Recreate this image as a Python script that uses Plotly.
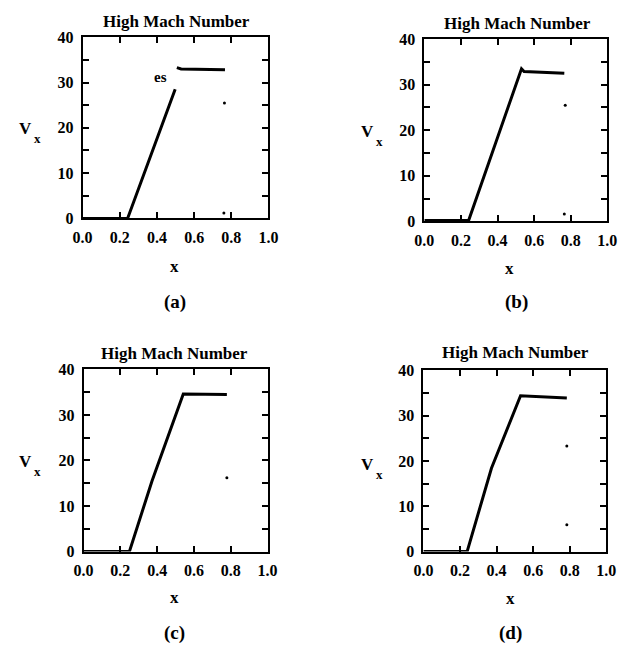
import plotly.graph_objects as go

# ---- data ----
a_x = [0.0, 0.242, 0.498]
a_y = [0.0, 0.0, 28.5]
a_flat_x = [0.507, 0.53, 0.766]
a_flat_y = [33.3, 33.0, 32.8]
a_dots_x = [0.763, 0.76]
a_dots_y = [25.5, 1.2]

b_x = [0.0, 0.242, 0.531, 0.545, 0.765]
b_y = [0.2, 0.2, 33.5, 32.9, 32.5]
b_dots_x = [0.77, 0.765]
b_dots_y = [25.5, 1.6]

c_x = [0.0, 0.249, 0.372, 0.542, 0.779]
c_y = [0.0, 0.0, 15.5, 34.6, 34.5]
c_dots_x = [0.779]
c_dots_y = [16.2]

d_x = [0.0, 0.239, 0.372, 0.531, 0.784]
d_y = [0.0, 0.0, 18.4, 34.4, 33.9]
d_dots_x = [0.784, 0.784]
d_dots_y = [23.3, 5.9]

x_ticks = [0.0, 0.2, 0.4, 0.6, 0.8, 1.0]
y_ticks = [0, 10, 20, 30, 40]
title_text = "High Mach Number"
y_label_main, y_label_sub = "V", "x"
x_label = "x"
panel_labels = ["(a)", "(b)", "(c)", "(d)"]

W, H = 627, 658
FONT = "Liberation Serif"

# panel boxes in pixels: left, right, top, bottom
boxes = [(75, 267, 30, 216), (428, 617, 32, 219), (76, 266, 371, 558), (427, 616, 372, 558)]
# text positions in pixels: title, ylabel (V), xlabel, panel label
texts = [
    dict(title=(172, 14), ylab=(18, 124), xlab=(170, 265), plab=(170, 302)),
    dict(title=(524, 16), ylab=(371, 127), xlab=(516, 267), plab=(523, 302)),
    dict(title=(170, 355), ylab=(18, 466), xlab=(170, 605), plab=(170, 642)),
    dict(title=(522, 354), ylab=(371, 469), xlab=(517, 606), plab=(517, 642)),
]

fig = go.Figure()

lines = [
    [(a_x, a_y), (a_flat_x, a_flat_y)],
    [(b_x, b_y)],
    [(c_x, c_y)],
    [(d_x, d_y)],
]
dots = [(a_dots_x, a_dots_y), (b_dots_x, b_dots_y), (c_dots_x, c_dots_y), (d_dots_x, d_dots_y)]

def ann(px, py, txt, size, xanchor="center"):
    return dict(x=px / W, y=1 - py / H, xref="paper", yref="paper",
                text=txt, showarrow=False, xanchor=xanchor, yanchor="middle",
                borderpad=0,
                font=dict(family=FONT, size=size, color="black", weight="bold"))

annotations = []
for i in range(4):
    sfx = "" if i == 0 else str(i + 1)
    xa, ya = "x" + sfx, "y" + sfx
    for lx, ly in lines[i]:
        fig.add_trace(go.Scatter(x=lx, y=ly, mode="lines", xaxis=xa, yaxis=ya,
                                 line=dict(color="black", width=3), showlegend=False))
    fig.add_trace(go.Scatter(x=dots[i][0], y=dots[i][1], mode="markers", xaxis=xa, yaxis=ya,
                             marker=dict(color="black", size=3), showlegend=False))
    l, r, t, b = boxes[i]
    axcommon = dict(showline=True, linecolor="black", linewidth=2, mirror="ticks",
                    ticks="inside", ticklen=6, tickwidth=2, tickcolor="black",
                    showgrid=False, zeroline=False,
                    tickfont=dict(family=FONT, size=16, color="black", weight="bold"))
    fig.layout["xaxis" + sfx] = dict(
        domain=[l / W, r / W], range=[0, 1], anchor=ya,
        tickvals=x_ticks, ticktext=["%.1f" % v for v in x_ticks],
        ticklabelstandoff=3, **axcommon)
    fig.layout["yaxis" + sfx] = dict(
        domain=[1 - b / H, 1 - t / H], range=[0, 40], anchor=xa,
        tickvals=y_ticks, ticktext=["%d" % v for v in y_ticks],
        ticklabelstandoff=4,
        minor=dict(dtick=5, ticks="inside", ticklen=6, tickwidth=2, tickcolor="black"),
        **axcommon)
    tx = texts[i]
    annotations.append(ann(*tx["title"], title_text, 17))
    vx, vy = tx["ylab"]
    annotations.append(ann(vx + 6, vy, y_label_main, 17, xanchor="right"))
    annotations.append(ann(vx + 6, vy + 10, y_label_sub, 13, xanchor="left"))
    annotations.append(ann(*tx["xlab"], x_label, 17))
    annotations.append(ann(*tx["plab"], panel_labels[i], 19))

annotations.append(dict(x=0.42, y=31.3, xref="x", yref="y", text="es", showarrow=False,
                        font=dict(family=FONT, size=15, color="black", weight="bold")))

fig.update_layout(width=W, height=H, margin=dict(l=0, r=0, t=0, b=0),
                  paper_bgcolor="white", plot_bgcolor="white", annotations=annotations)

fig.write_html("out.html")
